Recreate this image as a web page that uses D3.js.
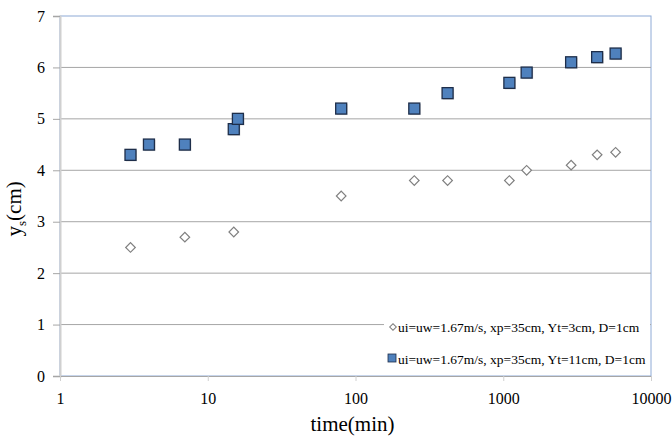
<!DOCTYPE html>
<html lang="en">
<head>
<meta charset="UTF-8">
<title>Scour depth vs time</title>
<script src="https://d3js.org/d3.v7.min.js"></script>
<style>
  body { margin: 0; background: #fff; }
  svg text { font-family: "Liberation Serif", "Times New Roman", serif; }
</style>
</head>
<body>
<svg id="chart" width="672" height="439"></svg>
<script>
// data
var timeSmall = [3, 7, 15, 80, 250, 420, 1100, 1440, 2880, 4320, 5760];
var ysSmall   = [2.5, 2.7, 2.8, 3.5, 3.8, 3.8, 3.8, 4.0, 4.1, 4.3, 4.35];
var timeBig   = [3, 4, 7, 15, 16, 80, 250, 420, 1100, 1440, 2880, 4320, 5760];
var ysBig     = [4.3, 4.5, 4.5, 4.8, 5.0, 5.2, 5.2, 5.5, 5.7, 5.9, 6.1, 6.2, 6.27];
var xTicks = [1, 10, 100, 1000, 10000];
var yTicks = [0, 1, 2, 3, 4, 5, 6, 7];
var seriesNames = [
    "ui=uw=1.67m/s, xp=35cm, Yt=3cm, D=1cm",
    "ui=uw=1.67m/s, xp=35cm, Yt=11cm, D=1cm"
];
var serif = "Liberation Serif, Times New Roman, serif";

var margin = { top: 16, right: 21, bottom: 63, left: 60 },
    width = 672 - margin.left - margin.right,
    height = 439 - margin.top - margin.bottom;

var svg = d3.select("#chart")
  .append("g")
    .attr("transform", "translate(" + margin.left + "," + margin.top + ")");

var x = d3.scaleLog().domain([1, 10000]).range([0, width]);
var y = d3.scaleLinear().domain([0, 7]).range([height, 0]);

// plot border (blue)
svg.append("rect")
    .attr("x", 0).attr("y", 0)
    .attr("width", width).attr("height", height)
    .attr("fill", "none")
    .attr("stroke", "#8eaad6");

// gridlines
svg.selectAll(".grid")
    .data(yTicks.filter(d => d > 0 && d < 7))
    .enter().append("line")
    .attr("x1", 0).attr("x2", width)
    .attr("y1", d => y(d)).attr("y2", d => y(d))
    .attr("stroke", "#a6a6a6");

// y axis
var yAxis = svg.append("g")
    .attr("font-family", serif)
    .call(d3.axisLeft(y).tickValues(yTicks).tickSize(7).tickPadding(8).tickFormat(d3.format("d")));
yAxis.attr("font-family", serif);
yAxis.select(".domain").attr("stroke", "#d0d0d0").attr("stroke-width", 2);
yAxis.selectAll(".tick line").attr("stroke", "#a6a6a6");
yAxis.selectAll(".tick text").attr("font-size", 16).attr("fill", "#000");

// x axis
var xAxis = svg.append("g")
    .attr("transform", "translate(0," + height + ")")
    .call(d3.axisBottom(x).tickValues(xTicks).tickSize(5).tickPadding(12).tickFormat(d3.format("d")));
xAxis.attr("font-family", serif);
xAxis.select(".domain").attr("stroke", "#a6a6a6");
xAxis.selectAll(".tick line").attr("stroke", "#d0d0d0");
xAxis.selectAll(".tick text").attr("font-size", 16).attr("fill", "#000");

// series: diamonds
var small = timeSmall.map((t, i) => ({ t: t, v: ysSmall[i] }));
var big = timeBig.map((t, i) => ({ t: t, v: ysBig[i] }));

svg.selectAll(".dia")
    .data(small)
    .enter().append("path")
    .attr("d", d3.symbol().type(d3.symbolSquare).size(46))
    .attr("transform", d => "translate(" + x(d.t) + "," + y(d.v) + ") rotate(45)")
    .attr("fill", "#fff")
    .attr("stroke", "#808080")
    .attr("stroke-width", 1.2);

// series: squares (with a faint shadow)
svg.selectAll(".sqs")
    .data(big)
    .enter().append("rect")
    .attr("x", d => x(d.t) - 4.5).attr("y", d => y(d.v) - 4.5)
    .attr("width", 11).attr("height", 11)
    .attr("fill", "#b8b8b8").attr("opacity", 0.6);
svg.selectAll(".sq")
    .data(big)
    .enter().append("rect")
    .attr("x", d => x(d.t) - 5.5).attr("y", d => y(d.v) - 5.5)
    .attr("width", 11).attr("height", 11)
    .attr("fill", "#4f81bd")
    .attr("stroke", "#1e2e4a")
    .attr("stroke-width", 1.3);

// legend
var legend = svg.append("g")
    .attr("transform", "translate(" + (width - 267) + "," + (height - 64) + ")");
legend.append("rect")
    .attr("x", 0).attr("y", 0)
    .attr("width", 266).attr("height", 60)
    .attr("fill", "#fff");

legend.append("path")
    .attr("d", d3.symbol().type(d3.symbolSquare).size(22))
    .attr("transform", "translate(9,15) rotate(45)")
    .attr("fill", "#fff").attr("stroke", "#808080");
legend.append("rect")
    .attr("x", 4).attr("y", 42).attr("width", 8).attr("height", 8)
    .attr("fill", "#4f81bd").attr("stroke", "#1e2e4a").attr("stroke-width", 0.8);

legend.selectAll(".ltext")
    .data(seriesNames)
    .enter().append("text")
    .attr("x", 14)
    .attr("y", (d, i) => 15 + i * 32)
    .attr("dy", "0.35em")
    .attr("font-size", 13.5)
    .text(d => d);

// axis titles
svg.append("text")
    .attr("x", x(100) - 3)
    .attr("y", height + 55)
    .attr("text-anchor", "middle")
    .attr("font-size", 21)
    .text("time(min)");

var yt = svg.append("text")
    .attr("transform", "translate(" + (-39) + "," + (y(3.25)) + ") rotate(-90)")
    .attr("text-anchor", "middle")
    .attr("font-size", 21);
yt.append("tspan").text("y");
yt.append("tspan").attr("font-size", 13).attr("dy", 5).text("s");
yt.append("tspan").attr("dy", -5).text("(cm)");
</script>
</body>
</html>
